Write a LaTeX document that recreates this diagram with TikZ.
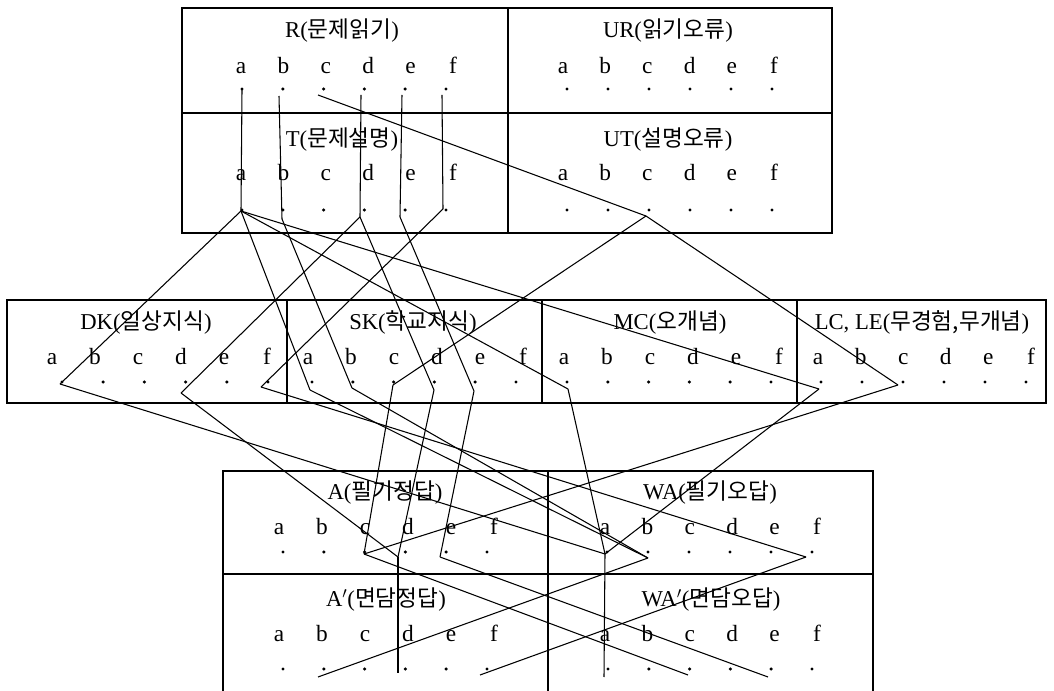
\documentclass[tikz,border=0pt]{standalone}
\usepackage{fontspec}
\setmainfont{Liberation Serif}
\newfontfamily\kr{Noto Sans CJK KR}
\begin{document}
\begin{tikzpicture}[x=0.75pt,y=-0.75pt,
  box/.style={line width=1.8pt},
  link/.style={line width=0.8pt},
  lab/.style={font=\fontsize{17.5}{20}\selectfont, inner sep=0pt, anchor=base},
  head/.style={font=\fontsize{17}{20}\selectfont, inner sep=0pt, anchor=base},
  dotn/.style={circle, fill=black, inner sep=0pt, minimum size=2.6pt}]
\useasboundingbox (0,0) rectangle (1054,691);
% ---------- boxes ----------
\draw[box] (182,8) rectangle (832,233);
\draw[box] (182,113) -- (832,113);
\draw[box] (508,8) -- (508,233);
\draw[box] (7,300) rectangle (1046,403);
\draw[box] (287,300) -- (287,403);
\draw[box] (542,300) -- (542,403);
\draw[box] (797,300) -- (797,403);
\draw[box] (223,691) -- (223,471) -- (873,471) -- (873,691);
\draw[box] (223,574) -- (873,574);
\draw[box] (548,471) -- (548,691);
% ---------- headers ----------
\node[head] (hR)  at (342,38)  {R({\kr 문제읽기})};
\node[head] (hUR) at (668,38)  {UR({\kr 읽기오류})};
\node[head] (hT)  at (342,147) {T({\kr 문제설명})};
\node[head] (hUT) at (668,147) {UT({\kr 설명오류})};
\node[head] (hDK) at (146,330) {DK({\kr 일상지식})};
\node[head] (hSK) at (413,330) {SK({\kr 학교지식})};
\node[head] (hMC) at (670,330) {MC({\kr 오개념})};
\node[head] (hLC) at (922,330) {LC, LE({\kr 무경험,무개념})};
\node[head] (hA)  at (385,500) {A({\kr 필기정답})};
\node[head] (hWA) at (710,500) {WA({\kr 필기오답})};
\node[head] (hAp) at (386,607) {A$'$({\kr 면담정답})};
\node[head] (hWAp) at (711,607) {WA$'$({\kr 면담오답})};
% ---------- letter rows and dots ----------
% #1 name, #2 letter x0, #3 letter baseline, #4 dot x0, #5 dot y, #6 letter pitch, #7 dot pitch
\newcommand{\grp}[7]{%
  \foreach \l [count=\i from 0] in {a,b,c,d,e,f} {%
    \node[lab] (#1-l\l) at ({#2+\i*#6},#3) {\l};
    \node[dotn] (#1-\l) at ({#4+\i*#7},#5) {};
  }}
\grp{R}{241}{74}{242}{89}{42.4}{40.8}
\grp{UR}{563}{74}{567}{89}{42.2}{41}
\grp{T}{241}{181}{242}{210}{42.4}{40.8}
\grp{UT}{563}{181}{567}{210}{42.2}{41}
\grp{DK}{52}{365}{62}{382}{43}{41.2}
\grp{SK}{308}{365}{312}{382}{43}{40.8}
\grp{MC}{564}{365}{567}{382}{43}{40.8}
\grp{LC}{818}{365}{821}{382}{42.6}{41}
\grp{A}{279}{535}{283}{552}{43}{40.8}
\grp{WA}{605}{535}{607}{552}{42.4}{41}
\grp{Ap}{279}{642}{283}{669}{43}{40.8}
\grp{WAp}{605}{642}{608}{669}{42.4}{40.8}
% ---------- junction points ----------
\coordinate (jRa) at (242,90);  \coordinate (jTa) at (241,211);
\coordinate (jRb) at (279,96);  \coordinate (jTb) at (282,219);
\coordinate (jRc) at (318,95);  \coordinate (jUTc) at (646,216);
\coordinate (jRd) at (361,95);  \coordinate (jTd) at (360,217);
\coordinate (jRe) at (402,95);  \coordinate (jTe) at (400,217);
\coordinate (jRf) at (442,95);  \coordinate (jTf) at (443,209);
\coordinate (jDKa) at (60,384); \coordinate (jDKd) at (181,393); \coordinate (jDKf) at (261,387);
\coordinate (jSKa) at (310,390); \coordinate (jSKb) at (352,388); \coordinate (jSKc) at (393,385);
\coordinate (jSKd) at (434,390); \coordinate (jSKe) at (474,391);
\coordinate (jMCa) at (568,389);
\coordinate (jLCa) at (819,389); \coordinate (jLCc) at (898,385);
\coordinate (jAc) at (364,554); \coordinate (jAd) at (398,557); \coordinate (jAe) at (440,557);
\coordinate (jWAa) at (605,554); \coordinate (jWAb) at (648,558); \coordinate (jWAf) at (806,557);
\coordinate (jApb) at (318,677); \coordinate (jApd) at (398,673); \coordinate (jApf) at (480,675);
\coordinate (jWApa) at (604,677); \coordinate (jWApc) at (688,675); \coordinate (jWApe) at (768,677);
% ---------- connectors ----------
\draw[link] (jRa) -- (jTa);
\draw[link] (jRb) -- (jTb);
\draw[link] (jRc) -- (jUTc);
\draw[link] (jRd) -- (jTd);
\draw[link] (jRe) -- (jTe);
\draw[link] (jRf) -- (jTf);
\draw[link] (jTa) -- (jDKa);
\draw[link] (jTa) -- (jSKa);
\draw[link] (jTa) -- (jMCa);
\draw[link] (jTa) -- (jLCa);
\draw[link] (jTb) -- (jSKb);
\draw[link] (jTd) -- (jDKd);
\draw[link] (jTd) -- (jSKd);
\draw[link] (jTe) -- (jSKe);
\draw[link] (jTf) -- (jDKf);
\draw[link] (jUTc) -- (jSKc);
\draw[link] (jUTc) -- (jLCc);
\draw[link] (jDKa) -- (jWAa);
\draw[link] (jSKa) -- (jWAb);
\draw[link] (jSKb) -- (jWAb);
\draw[link] (jMCa) -- (jWAa);
\draw[link] (jLCa) -- (jWAa);
\draw[link] (jDKf) -- (jWAf);
\draw[link] (jSKc) -- (jAc);
\draw[link] (jLCc) -- (jAc);
\draw[link] (jDKd) -- (jAd);
\draw[link] (jSKd) -- (jAd);
\draw[link] (jSKe) -- (jAe);
\draw[link] (jAd) -- (jApd);
\draw[link] (jWAa) -- (jWApa);
\draw[link] (jWAb) -- (jApb);
\draw[link] (jWAf) -- (jApf);
\draw[link] (jAc) -- (jWApc);
\draw[link] (jAe) -- (jWApe);
\end{tikzpicture}
\end{document}
